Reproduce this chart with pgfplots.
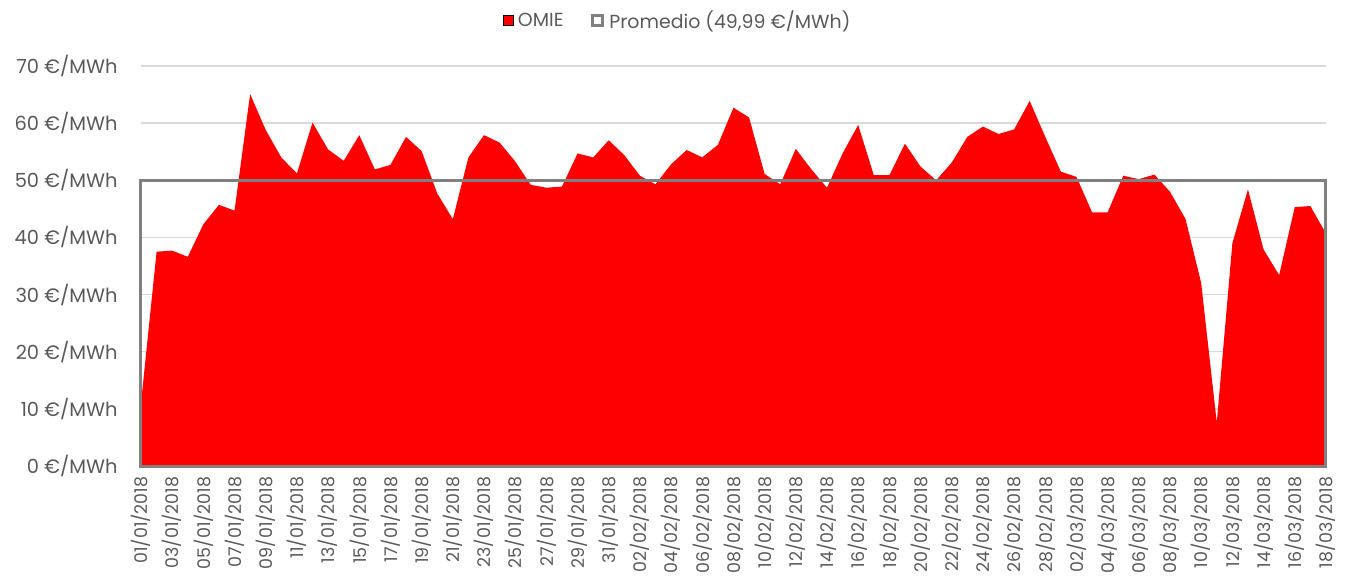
\documentclass[border=0pt]{standalone}
\usepackage{pgfplots}
\pgfplotsset{compat=1.18}
\usepackage{fontspec}
\setmainfont{Poppins}
\definecolor{omie}{RGB}{255,0,0}
\definecolor{prom}{RGB}{128,128,128}
\definecolor{txt}{RGB}{89,89,89}
\definecolor{grd}{RGB}{217,217,217}
\begin{document}
\begin{tikzpicture}
\path[use as bounding box] (-141bp,-113bp) rectangle (1207bp,466bp);
\begin{axis}[
  at={(0,0)}, anchor=south west,
  scale only axis,
  width=1185bp, height=400bp,
  xmin=1, xmax=77, ymin=0, ymax=70,
  axis line style={draw=none},
  major tick length=0pt,
  ymajorgrids, grid style={grd, line width=1.3bp},
  ytick={0,10,...,70},
  yticklabels={0 €/MWh,10 €/MWh,20 €/MWh,30 €/MWh,40 €/MWh,50 €/MWh,60 €/MWh,70 €/MWh},
  yticklabel style={font=\fontsize{19.5}{22}\selectfont, text=txt},
  yticklabel shift=20bp,
  xtick={1,3,...,77},
  xticklabels={01/01/2018,03/01/2018,05/01/2018,07/01/2018,09/01/2018,11/01/2018,13/01/2018,15/01/2018,17/01/2018,19/01/2018,21/01/2018,23/01/2018,25/01/2018,27/01/2018,29/01/2018,31/01/2018,02/02/2018,04/02/2018,06/02/2018,08/02/2018,10/02/2018,12/02/2018,14/02/2018,16/02/2018,18/02/2018,20/02/2018,22/02/2018,24/02/2018,26/02/2018,28/02/2018,02/03/2018,04/03/2018,06/03/2018,08/03/2018,10/03/2018,12/03/2018,14/03/2018,16/03/2018,18/03/2018},
  xticklabel style={font=\fontsize{17.5}{20}\selectfont, text=txt, rotate=90, anchor=east},
  xticklabel shift=7bp,
  legend style={at={(0.5,1)}, anchor=south, xshift=-56bp, yshift=32bp, draw=none, fill=none,
    font=\fontsize{19}{22}\selectfont, text=txt, legend columns=2,
    /tikz/every odd column/.append style={column sep=3bp},
    /tikz/every even column/.append style={column sep=26bp}},
  legend image code/.code={\draw[#1] (0bp,-5bp) rectangle (10bp,5bp);},
  clip=false,
]
\addplot[fill=omie, draw=none] coordinates {
(1,11) (2,37.5) (3,37.7) (4,36.6) (5,42.3) (6,45.7) (7,44.7) (8,65.1) (9,58.8) (10,54.0)
(11,51.2) (12,60.1) (13,55.4) (14,53.4) (15,57.9) (16,51.9) (17,52.7) (18,57.6) (19,55.1) (20,47.7)
(21,43.2) (22,54.0) (23,57.9) (24,56.6) (25,53.3) (26,49.2) (27,48.7) (28,48.9) (29,54.7) (30,54.0)
(31,57.0) (32,54.4) (33,50.8) (34,49.3) (35,52.8) (36,55.3) (37,54.0) (38,56.2) (39,62.7) (40,61.0)
(41,51.1) (42,49.3) (43,55.5) (44,51.9) (45,48.7) (46,54.7) (47,59.7) (48,50.9) (49,50.9) (50,56.4)
(51,52.4) (52,50.0) (53,53.1) (54,57.6) (55,59.4) (56,58.1) (57,58.9) (58,63.9) (59,57.6) (60,51.5)
(61,50.6) (62,44.4) (63,44.4) (64,50.8) (65,50.2) (66,51.0) (67,48.0) (68,43.2) (69,32.0) (70,7.6)
(71,39.0) (72,48.4) (73,37.9) (74,33.4) (75,45.3) (76,45.5) (77,40.7)
} \closedcycle;
\addlegendentry{OMIE}
\addplot[draw=prom, line width=3bp, fill=none] coordinates {(1,49.99) (77,49.99)} \closedcycle;
\addlegendentry{Promedio (49,99 €/MWh)}
\end{axis}
\end{tikzpicture}
\end{document}
